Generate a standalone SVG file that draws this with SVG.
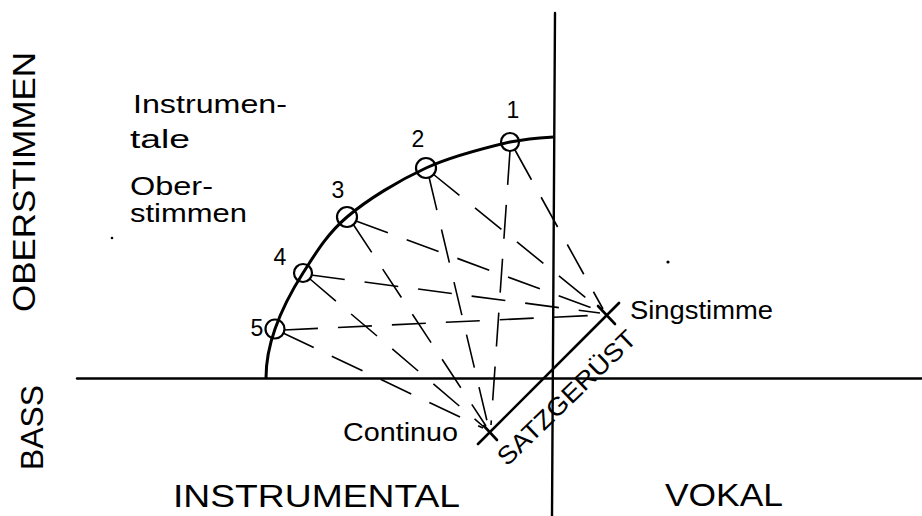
<svg xmlns="http://www.w3.org/2000/svg" width="922" height="516" viewBox="0 0 922 516">
<style>
text{font-family:"Liberation Sans","DejaVu Sans",sans-serif;fill:#000}
.ax{stroke:#000;stroke-width:2.4;fill:none;stroke-linecap:round}
.arc{stroke:#000;stroke-width:3;fill:none}
.ring{stroke:#000;stroke-width:2.2;fill:none}
.dash{stroke:#000;stroke-width:1.6;fill:none;stroke-dasharray:34 20}
.mark{stroke:#000;stroke-width:2.6;fill:none;stroke-linecap:round}
.num{font-size:23px;text-anchor:middle}
.lbl{font-size:25px}
.big{font-size:31px}
</style>
<rect width="922" height="516" fill="#fff"/>
<g id="axes">
<line class="ax" x1="555" y1="13" x2="552" y2="516"/>
<line class="ax" x1="77" y1="378.5" x2="922" y2="378.5"/>
<path class="arc" d="M266,378 C266,362 268.8,346.5 275,329 C281.2,311.5 291,291.7 303,273 C315,254.3 326.5,234.5 347,217 C367.5,199.5 398.8,180.5 426,168 C453.2,155.5 488.8,147 510,142 C531,138 545,137.5 553,137"/>
</g>
<g id="connectors">
<path class="dash" d="M510,151 L491,425"/>
<path class="dash" d="M429,177 L488,425"/>
<path class="dash" d="M353,224 L486,426"/>
<path class="dash" d="M310,279 L484,427"/>
<path class="dash" d="M283,333 L483,428"/>
<path class="dash" d="M515,150 L603,309"/>
<path class="dash" d="M433,174 L601,310"/>
<path class="dash" d="M356,221 L600,311"/>
<path class="dash" d="M311,275 L600,313"/>
<path class="dash" d="M284,330 L600,315"/>
<line id="satzgeruest-line" class="mark" x1="478" y1="444" x2="619" y2="303"/>
</g>
<g id="voice1"><circle class="ring" cx="510" cy="142" r="9"/><text class="num" x="513" y="118">1</text></g>
<g id="voice2"><circle class="ring" cx="426" cy="168" r="10"/><text class="num" x="418" y="147">2</text></g>
<g id="voice3"><circle class="ring" cx="347" cy="217" r="10"/><text class="num" x="338" y="198">3</text></g>
<g id="voice4"><circle class="ring" cx="303" cy="273" r="9"/><text class="num" x="280" y="265">4</text></g>
<g id="voice5"><circle class="ring" cx="275" cy="329" r="9.5"/><text class="num" x="257" y="336">5</text></g>
<g id="continuo"><line class="mark" x1="484" y1="426" x2="497" y2="440"/><text class="lbl" x="343" y="441" textLength="115" lengthAdjust="spacingAndGlyphs">Continuo</text></g>
<g id="singstimme"><line class="mark" x1="598" y1="306" x2="615" y2="324"/><text class="lbl" x="630" y="319" textLength="143" lengthAdjust="spacingAndGlyphs">Singstimme</text></g>
<g id="satzgeruest"><text class="lbl" font-size="24" transform="translate(507,467) rotate(-44)" textLength="182" lengthAdjust="spacingAndGlyphs">SATZGERÜST</text></g>
<g id="instrumentale-oberstimmen">
<text class="lbl" font-size="24" x="133" y="113" textLength="154" lengthAdjust="spacingAndGlyphs">Instrumen-</text>
<text class="lbl" font-size="24" x="130" y="148" textLength="60" lengthAdjust="spacingAndGlyphs">tale</text>
<text class="lbl" font-size="24" x="130" y="195" textLength="83" lengthAdjust="spacingAndGlyphs">Ober-</text>
<text class="lbl" font-size="24" x="130" y="222" textLength="117" lengthAdjust="spacingAndGlyphs">stimmen</text>
</g>
<g id="axis-labels">
<text class="big" font-size="26" transform="translate(35,312) rotate(-90)" textLength="260" lengthAdjust="spacingAndGlyphs">OBERSTIMMEN</text>
<text class="big" font-size="32" transform="translate(43,470) rotate(-90)" textLength="85" lengthAdjust="spacingAndGlyphs">BASS</text>
<text class="big" font-size="30" x="173" y="507" textLength="287" lengthAdjust="spacingAndGlyphs">INSTRUMENTAL</text>
<text class="big" font-size="31" x="665" y="506" textLength="118" lengthAdjust="spacingAndGlyphs">VOKAL</text>
</g>
<g id="specks"><circle cx="112" cy="238" r="1.3"/><circle cx="668" cy="262" r="1.6"/></g>
</svg>
